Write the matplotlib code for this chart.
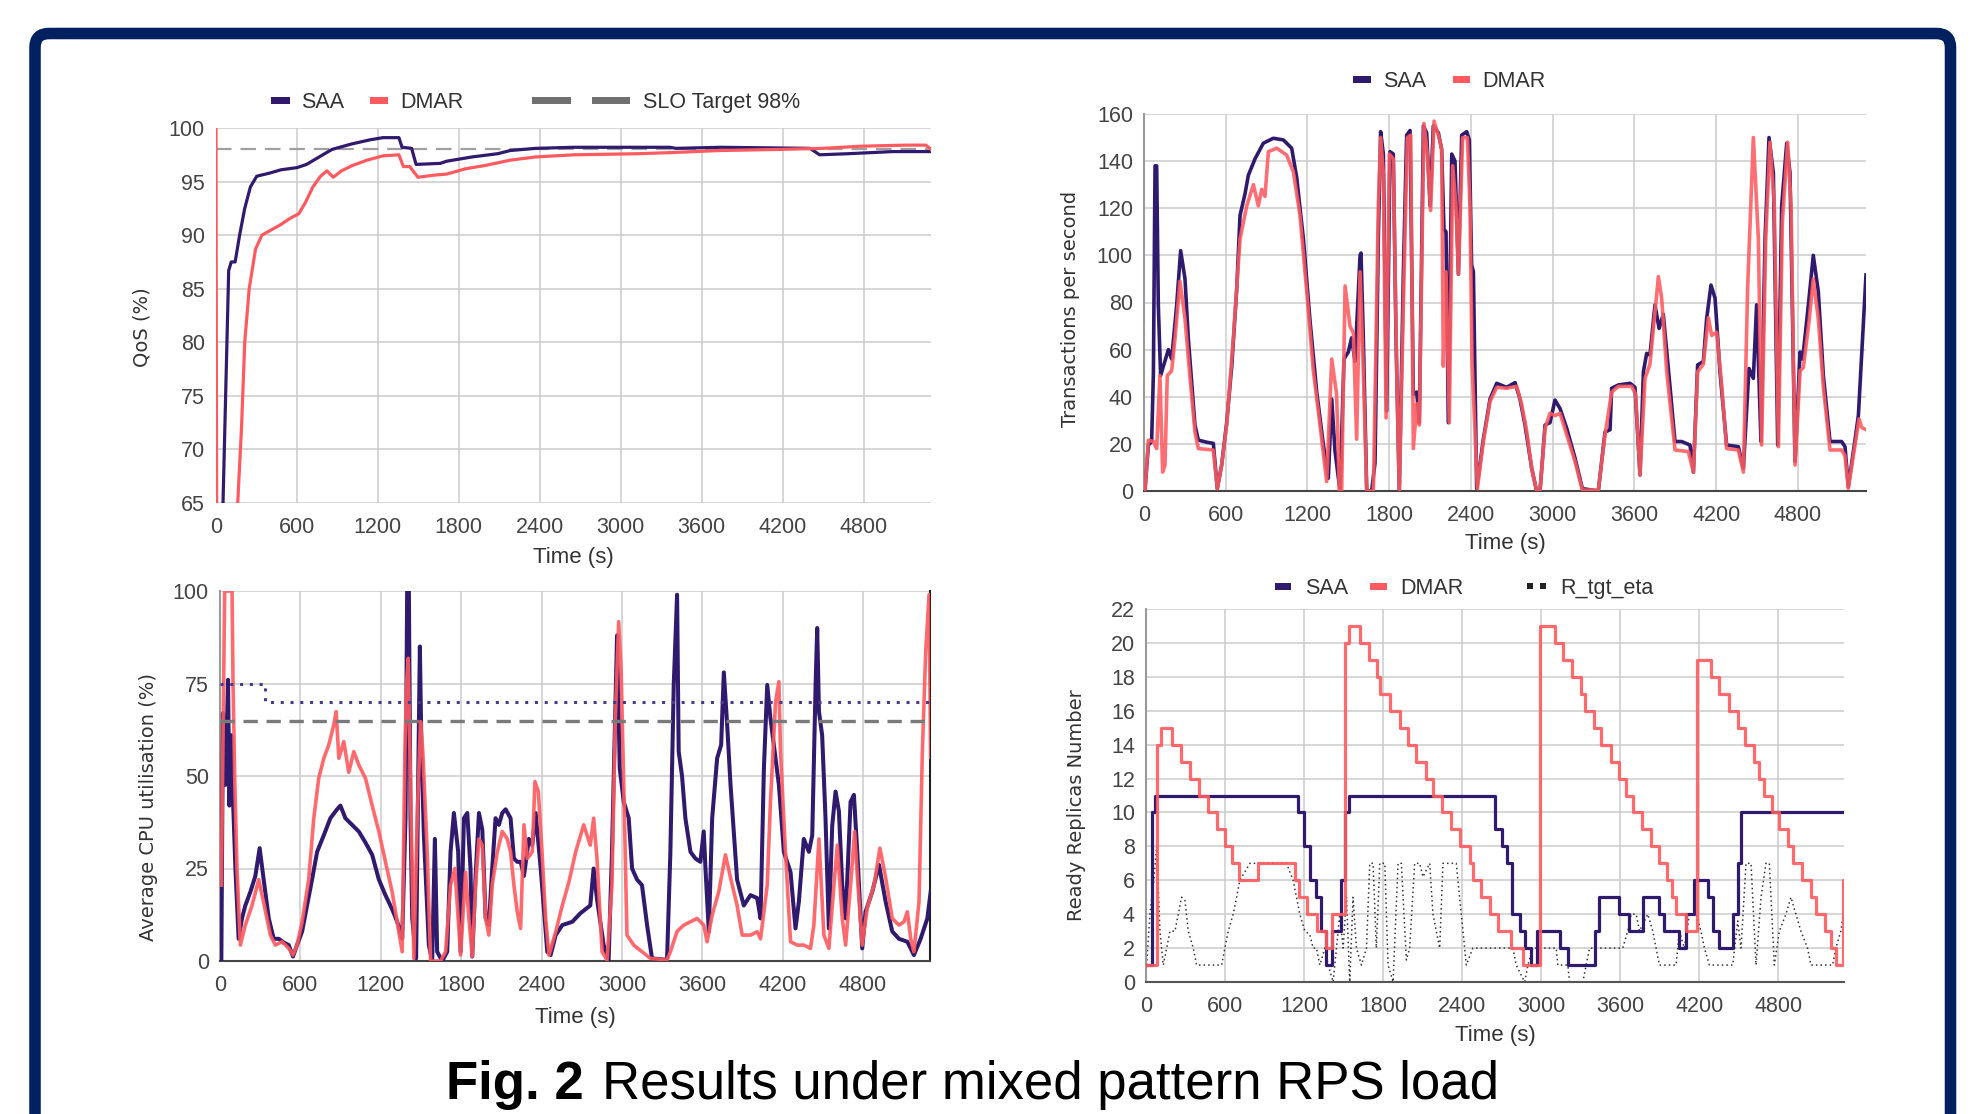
import matplotlib
matplotlib.use('Agg')
import matplotlib.pyplot as plt
from matplotlib.patches import Rectangle, FancyBboxPatch

plt.rcParams['font.family'] = ['Liberation Sans', 'DejaVu Sans']

# ---- data (time in seconds) ----
time_ticks = [0, 600, 1200, 1800, 2400, 3000, 3600, 4200, 4800]

# QoS (%)
saa_qos_t = [45, 52, 94, 113, 142, 175, 213, 255, 302, 400, 482, 600, 671, 765, 860, 1002, 1143, 1238,
             1356, 1379, 1450, 1483, 1663, 1710, 1899, 2088, 2182, 2371, 2655, 3363, 3411, 3741, 4403,
             4474, 4686, 5017, 5300]
saa_qos_v = [40, 65, 86.7, 87.5, 87.5, 90, 92.5, 94.5, 95.5, 95.8, 96.1, 96.3, 96.6, 97.3, 98, 98.5, 98.9,
             99.1, 99.1, 98.2, 98.1, 96.6, 96.7, 96.9, 97.3, 97.6, 97.9, 98.1, 98.2, 98.2, 98.1, 98.2,
             98.1, 97.5, 97.6, 97.8, 97.8]
dmar_qos_t = [0, 8, 150, 161, 189, 213, 246, 293, 340, 482, 553, 614, 661, 718, 775, 822, 869, 930, 1011,
              1120, 1238, 1356, 1389, 1436, 1497, 1616, 1710, 1852, 1994, 2182, 2371, 2655, 3127, 3363,
              3741, 4167, 4497, 4781, 5111, 5262, 5300]
dmar_qos_v = [100, 40, 40, 65, 72, 80, 85, 88.7, 90, 91, 91.6, 92, 93, 94.5, 95.5, 96, 95.4, 96, 96.5,
              97, 97.4, 97.5, 96.4, 96.4, 95.4, 95.6, 95.7, 96.2, 96.5, 97, 97.3, 97.5, 97.6, 97.7,
              97.9, 98, 98.1, 98.3, 98.4, 98.4, 98.0]
slo_target = 98

# Transactions per second
saa_tps_t = [7, 32, 56, 69, 81, 93, 105, 122, 179, 203, 240, 269, 301, 325, 350, 374, 399, 460, 509, 538,
             570, 607, 644, 680, 705, 741, 766, 815, 876, 949, 1023, 1084, 1121, 1170, 1219, 1268, 1317,
             1353, 1378, 1402, 1439, 1468, 1500, 1524, 1549, 1586, 1593, 1610, 1635, 1671, 1696, 1720,
             1737, 1757, 1781, 1806, 1830, 1850, 1874, 1904, 1928, 1953, 1977, 2002, 2021, 2051, 2075,
             2100, 2124, 2161, 2185, 2202, 2217, 2234, 2259, 2283, 2308, 2332, 2369, 2388, 2405, 2418,
             2442, 2491, 2540, 2589, 2662, 2724, 2760, 2797, 2846, 2882, 2907, 2944, 2980, 3017, 3054,
             3103, 3164, 3218, 3335, 3384, 3421, 3433, 3482, 3568, 3604, 3641, 3666, 3690, 3714, 3751,
             3781, 3812, 3849, 3898, 3947, 4008, 4033, 4064, 4106, 4130, 4162, 4192, 4228, 4277, 4363,
             4400, 4441, 4473, 4497, 4529, 4559, 4588, 4620, 4652, 4681, 4718, 4742, 4779, 4816, 4835,
             4877, 4913, 4950, 4987, 5036, 5121, 5146, 5170, 5207, 5244, 5300]
saa_tps_v = [0, 19.5, 21, 50, 138, 138, 79, 49, 60, 56, 79, 102, 90, 65, 46, 28, 21.6, 20.7, 20.2, 1,
             11, 29, 53, 85, 117, 126, 134, 141, 147.6, 149.7, 149, 145.5, 133, 107, 72, 42, 19.5,
             5.4, 39, 17, 0, 56, 59, 65, 55, 100, 101, 65, 0, 0, 12, 107,
             152.5, 143, 34, 144, 143, 65, 0, 93, 151, 153, 41, 42, 29, 155, 152,
             121, 155, 152, 145, 111, 110, 29, 143, 140, 92, 151, 152.5, 149, 96, 93,
             1, 22, 39, 45.7, 44, 46, 39, 28, 9.6, 0, 0, 28, 29, 38.6, 35,
             26.6, 14, 1, 0, 25, 26, 43.6, 45, 45.7, 44, 6.8, 50.6, 58.4, 57.7, 79,
             69, 75, 52, 21, 21, 19.5, 8, 53.5, 55, 73, 87.4, 81.8, 50.6, 19.5, 18.8,
             9.6, 52, 47.8, 79, 21, 107, 150, 135, 19.5, 121, 147.6, 135, 12.5, 59, 56,
             79, 100, 84.6, 49, 21, 21, 18.8, 1.8, 16.7, 32, 91.7]
dmar_tps_t = [7, 32, 69, 93, 117, 137, 154, 171, 203, 228, 264, 301, 338, 374, 399, 509, 538, 570, 607,
              656, 705, 754, 803, 839, 864, 888, 913, 974, 1047, 1096, 1145, 1194, 1243, 1292, 1341,
              1378, 1414, 1434, 1451, 1476, 1512, 1537, 1561, 1586, 1610, 1635, 1684, 1720, 1737, 1757,
              1777, 1801, 1830, 1855, 1874, 1904, 1933, 1958, 1977, 2002, 2021, 2055, 2080, 2104, 2129,
              2166, 2185, 2197, 2217, 2241, 2266, 2290, 2308, 2339, 2374, 2393, 2408, 2447, 2491, 2540,
              2589, 2662, 2736, 2772, 2809, 2846, 2882, 2907, 2944, 2980, 3017, 3054, 3103, 3164, 3218,
              3335, 3384, 3433, 3482, 3580, 3609, 3641, 3678, 3714, 3751, 3776, 3800, 3837, 3898, 3996,
              4033, 4064, 4106, 4143, 4167, 4204, 4241, 4277, 4363, 4400, 4431, 4473, 4510, 4534, 4564,
              4595, 4627, 4657, 4686, 4725, 4750, 4779, 4816, 4840, 4882, 4913, 4950, 4987, 5036, 5121,
              5146, 5170, 5207, 5249, 5268, 5300]
dmar_tps_v = [0, 21.6, 21, 18, 49, 8, 11, 49, 51, 65, 89, 73, 48, 25, 18, 17.4, 1, 11, 28,
              65, 107, 121, 130, 121, 128, 125, 144, 145.5, 142.6, 135.6, 117, 85, 51, 28, 4,
              56, 41, 0, 0, 87, 70, 67, 22, 93, 51, 0, 0, 121, 150, 135,
              31, 143, 141, 51, 0, 79, 150, 151, 18, 37, 28, 156, 143, 119, 157,
              150, 145, 53, 93, 29, 138, 121, 92, 150, 150, 121, 55, 1, 21, 38,
              44, 43.6, 44.4, 36.8, 25.5, 9.6, 0, 0, 26.6, 33, 32, 33, 23.8, 12.5, 0.4,
              0.4, 23.8, 42, 44.4, 44.4, 41, 6.8, 47.8, 53.8, 76, 91, 81.8, 50.6, 17.4, 16.7,
              8, 50.6, 53.8, 73.6, 66, 67.4, 44.6, 18, 17.4, 8, 86, 150, 107, 19.5, 107,
              148, 121, 18.8, 114, 148, 121, 11, 51, 52.4, 72, 90, 73, 43.9, 17.4, 17.4,
              15, 1.1, 15, 30.6, 27, 26]

# Average CPU utilisation (%)
saa_cpu_t = [10, 22, 40, 60, 70, 85, 95, 115, 139, 164, 189, 227, 264, 296, 326, 364, 401, 438, 476, 513,
             545, 575, 613, 650, 687, 725, 775, 824, 874, 899, 936, 986, 1036, 1086, 1136, 1186, 1235,
             1285, 1323, 1360, 1385, 1397, 1410, 1422, 1435, 1464, 1479, 1492, 1504, 1522, 1559, 1584,
             1604, 1621, 1659, 1696, 1721, 1746, 1778, 1796, 1821, 1846, 1870, 1883, 1908, 1933, 1958,
             1983, 2007, 2032, 2057, 2082, 2107, 2132, 2169, 2194, 2219, 2244, 2269, 2306, 2331, 2356,
             2394, 2418, 2443, 2468, 2506, 2555, 2630, 2690, 2764, 2789, 2814, 2864, 2901, 2926, 2964,
             2984, 3014, 3051, 3076, 3113, 3150, 3188, 3225, 3337, 3362, 3387, 3412, 3424, 3449, 3474,
             3512, 3549, 3586, 3611, 3624, 3649, 3674, 3711, 3741, 3761, 3786, 3811, 3860, 3910, 3960,
             4010, 4035, 4060, 4085, 4109, 4134, 4172, 4209, 4259, 4296, 4321, 4358, 4396, 4421, 4446,
             4458, 4471, 4495, 4520, 4545, 4570, 4595, 4620, 4645, 4670, 4707, 4732, 4757, 4794, 4819,
             4869, 4919, 4969, 5018, 5068, 5131, 5180, 5230, 5280, 5305]
saa_cpu_v = [0, 67, 47.6, 76, 42, 61, 46, 25, 6, 11.5, 15, 18.7, 23, 30.5, 22, 11.5, 6, 6, 5, 4.3,
             1.2, 4.3, 8, 15, 22, 29.5, 34, 38.6, 41, 42, 38.6, 36.8, 35, 32, 28.7, 22, 17.8,
             14, 10.6, 6, 39, 100, 100, 39, 11.5, 0.7, 47.6, 85, 56.6, 34, 4.3, 0,
             33, 2.5, 0, 2.5, 29.5, 40, 29.5, 2.5, 38.6, 40, 25, 1.2, 23, 40, 35.5,
             11.5, 9.7, 25, 38.6, 36.8, 40, 41, 38.6, 27.7, 26.8, 26.8, 23, 33, 31.3, 40,
             25, 14, 2.5, 1.6, 7, 9.7, 10.6, 12.9, 15, 25, 16.8, 4.3, 0.3, 29.5, 88,
             52, 43, 38.6, 25, 22, 20.5, 9.7, 0.7, 0.3, 29.5, 74.6, 99, 56.6, 50, 38.6,
             29.5, 27.7, 26.8, 35, 25, 7.9, 38.6, 54.8, 58.4, 78, 63.8, 47.6, 22, 15, 17.8,
             17, 11.5, 52, 74.6, 65.6, 58.4, 47.6, 29.5, 24, 8.8, 16, 33, 29.5, 34, 74.6,
             90, 67.4, 61, 38.6, 8.8, 36.5, 45.8, 40.5, 20.5, 11.5, 43, 44.9, 29.5, 3.4, 13.3,
             18.7, 26, 16, 8, 6, 5.2, 1.6, 6, 11.5, 18.7]
dmar_cpu_t = [10, 35, 65, 90, 97, 110, 127, 152, 189, 239, 289, 326, 376, 413, 463, 513, 545, 575, 613,
              662, 700, 737, 775, 812, 849, 867, 887, 924, 961, 999, 1036, 1086, 1136, 1186, 1235, 1285,
              1335, 1360, 1380, 1392, 1405, 1422, 1447, 1472, 1497, 1514, 1547, 1572, 1646, 1684, 1721,
              1753, 1778, 1796, 1833, 1858, 1883, 1908, 1933, 1958, 1983, 2007, 2032, 2070, 2107, 2144,
              2169, 2194, 2219, 2244, 2269, 2294, 2331, 2351, 2376, 2401, 2431, 2456, 2506, 2555, 2605,
              2655, 2715, 2764, 2789, 2814, 2852, 2889, 2926, 2951, 2976, 2994, 3014, 3038, 3088, 3150,
              3213, 3337, 3362, 3412, 3462, 3512, 3561, 3611, 3636, 3674, 3723, 3773, 3811, 3860, 3898,
              3960, 4010, 4035, 4085, 4109, 4147, 4172, 4184, 4221, 4259, 4309, 4358, 4408, 4433, 4471,
              4508, 4545, 4583, 4608, 4645, 4670, 4707, 4737, 4762, 4794, 4832, 4882, 4926, 4969, 5018,
              5068, 5106, 5131, 5156, 5180, 5218, 5243, 5268, 5293, 5305]
dmar_cpu_v = [20.5, 100, 100, 100, 76, 49, 25, 4.3, 9.7, 15, 22, 15.8, 7, 4.3, 5.2, 3.4, 1.6, 4.3, 10.6,
              22, 38.6, 49.4, 54.8, 58.4, 63.8, 67.4, 54.8, 59.3, 51, 56.6, 53, 49.4, 42, 35, 26.8, 18.7,
              8, 2.5, 56.6, 74.6, 81.8, 47.6, 0.7, 38.6, 64.7, 56.6, 29.5, 0, 0, 2.5, 20.5,
              25, 11.5, 1.6, 24, 11.5, 1.2, 20.5, 33, 31.3, 11.5, 7, 20.5, 29.5, 35, 33,
              29.5, 20.5, 13.3, 8.8, 36.8, 27.7, 29.5, 48.5, 45.8, 31.3, 11.5, 1.6, 7.9, 15, 21.4,
              29.5, 36.8, 31.3, 38.6, 27.7, 2.5, 0.3, 20.5, 65.6, 91.7, 79, 47.6, 7, 4.3, 2.5,
              0.7, 0.3, 2.5, 8, 9.7, 10.6, 11.5, 9.7, 5.2, 12.4, 18.7, 28.7, 22.5, 15, 7,
              7, 7.9, 6, 20.5, 43, 70, 75.5, 56.6, 29.5, 5.2, 4.3, 4.3, 3.4, 9.7, 33,
              7, 3.4, 20.5, 31.3, 11.5, 4.3, 20.5, 35, 20.5, 4.3, 14.4, 20.5, 30.5, 22.5, 11.5,
              9.7, 10.6, 13.3, 6, 2.5, 16, 56.6, 83.6, 99, 55]
cpu_target_t = [0, 336, 5300]
cpu_target_v = [75, 70, 70]
cpu_threshold = 65

# Ready replicas (step changes)
saa_rep_t = [0, 43, 68, 1155, 1198, 1249, 1289, 1332, 1370, 1416, 1484, 1510, 1542, 2647, 2700, 2740,
             2781, 2837, 2875, 2925, 2968, 3145, 3203, 3413, 3443, 3590, 3666, 3772, 3893, 3936, 4045,
             4101, 4164, 4265, 4303, 4353, 4455, 4493, 4518, 5300]
saa_rep_v = [1, 10, 11, 10, 8, 6, 5, 3, 1, 3, 6, 10, 11, 9, 8, 7,
             4, 3, 2, 1, 3, 2, 1, 3, 5, 4, 3, 5, 4, 3, 2,
             4, 6, 5, 3, 2, 4, 7, 10, 10]
dmar_rep_t = [0, 86, 111, 195, 263, 334, 404, 468, 541, 599, 650, 708, 852, 1130, 1163, 1224, 1299, 1370,
              1416, 1509, 1542, 1623, 1694, 1754, 1780, 1856, 1926, 1990, 2053, 2124, 2179, 2250, 2318,
              2386, 2457, 2482, 2546, 2609, 2672, 2773, 2862, 2993, 3102, 3165, 3236, 3304, 3337, 3405,
              3456, 3532, 3590, 3641, 3696, 3767, 3835, 3898, 3954, 3994, 4025, 4101, 4182, 4290, 4353,
              4424, 4493, 4551, 4619, 4652, 4695, 4753, 4809, 4872, 4915, 4980, 5049, 5087, 5157, 5200,
              5238, 5294, 5300]
dmar_rep_v = [1, 14, 15, 14, 13, 12, 11, 10, 9, 8, 7, 6, 7, 6, 5, 4, 3, 2,
              4, 20, 21, 20, 19, 18, 17, 16, 15, 14, 13, 12, 11, 10, 9,
              8, 7, 6, 5, 4, 3, 2, 1, 21, 20, 19, 18, 17, 16, 15,
              14, 13, 12, 11, 10, 9, 8, 7, 6, 5, 4, 3, 19, 18, 17,
              16, 15, 14, 13, 12, 11, 10, 9, 8, 7, 6, 5, 4, 3, 2,
              1, 6, 6]
eta_t = [5, 30, 60, 81, 106, 131, 157, 182, 220, 245, 270, 296, 321, 359, 384, 574, 599, 624, 662, 688,
         713, 789, 1067, 1117, 1168, 1206, 1244, 1269, 1294, 1320, 1358, 1383, 1421, 1446, 1471, 1497,
         1522, 1547, 1572, 1598, 1636, 1674, 1699, 1724, 1749, 1775, 1813, 1838, 1876, 1914, 1939, 1977,
         2002, 2040, 2078, 2103, 2154, 2179, 2204, 2230, 2255, 2293, 2318, 2356, 2381, 2407, 2432, 2482,
         2736, 2786, 2811, 2875, 2900, 2938, 3115, 3127, 3203, 3216, 3317, 3342, 3368, 3620, 3658, 3684,
         3722, 3747, 3810, 3848, 3873, 3898, 4025, 4050, 4088, 4126, 4177, 4214, 4240, 4278, 4455, 4493,
         4518, 4556, 4594, 4632, 4670, 4707, 4733, 4771, 4809, 4859, 4897, 4935, 4973, 5023, 5049, 5213,
         5238, 5276, 5294]
eta_v = [1, 4, 6, 8, 3, 1, 2, 3, 3, 4, 5, 4.8, 3, 2, 1, 1, 2, 3, 4, 5,
         6, 7, 7, 6, 4, 3, 2.8, 2, 2, 1, 2, 1, 0, 2, 4, 2,
         5, 0, 5, 2, 1, 2, 7, 7, 2, 7, 7, 1, 0, 7, 7, 1.3,
         2, 7, 7, 6.2, 7, 4, 3, 2, 7, 7, 7, 7, 5, 3, 1, 2,
         2, 2, 1, 0, 1, 2, 2, 1, 1, 0, 0, 1, 2, 2, 3, 4,
         4, 3, 4, 3, 2, 1, 1, 3, 2, 4, 4, 3, 2, 1, 1, 3.6,
         2, 7, 7, 1, 5, 7, 7, 1, 3, 4, 5, 4, 3, 2, 1, 1,
         2, 3, 4]

# ---- styling ----
W, H = 1972, 1114
NAVY = '#2f1a6e'
RED = '#ff5a5f'
FRAME = '#002060'
TICK_COL = '#444444'


def box(x0, y0, x1, y1):
    # pixel box (top-left origin) -> figure fraction rect
    return [x0 / W, 1 - y1 / H, (x1 - x0) / W, (y1 - y0) / H]


def style_axes(ax, ylim, yticks, left=None, bottom=None, right=None):
    ax.set_xlim(0, 5300)
    ax.set_ylim(*ylim)
    ax.set_xticks(time_ticks)
    ax.set_yticks(yticks)
    ax.grid(True, color='#cccccc', lw=1.1)
    ax.set_axisbelow(True)
    ax.tick_params(length=0, labelsize=15.5, labelcolor=TICK_COL)
    ax.tick_params(axis='x', pad=10)
    ax.tick_params(axis='y', pad=8)
    for name, col in (('left', left), ('bottom', bottom), ('right', right), ('top', None)):
        sp = ax.spines[name]
        if col is None:
            sp.set_visible(False)
        else:
            sp.set_color(col)
            sp.set_linewidth(1.5)


fig = plt.figure(figsize=(W / 100, H / 100), dpi=100)

# top left: QoS
ax1 = fig.add_axes(box(216, 128, 931, 503))
style_axes(ax1, (65, 100), range(65, 101, 5))
ax1.axhline(slo_target, color='#a0a0a0', lw=1.6, ls=(0, (7, 4)), zorder=2)
ax1.plot(saa_qos_t, saa_qos_v, color=NAVY, lw=2.3, zorder=3)
ax1.plot(dmar_qos_t, dmar_qos_v, color=RED, lw=2.3, zorder=4)

# top right: TPS
ax2 = fig.add_axes(box(1144, 114, 1866, 491))
style_axes(ax2, (0, 160), range(0, 161, 20), left='#9a9a9a', bottom='#444444')
ax2.plot(saa_tps_t, saa_tps_v, color=NAVY, lw=2.6, zorder=3)
ax2.plot(dmar_tps_t, dmar_tps_v, color=RED, lw=2.6, alpha=0.88, zorder=4)

# bottom left: CPU
ax3 = fig.add_axes(box(220, 591, 930, 961))
style_axes(ax3, (0, 100), [0, 25, 50, 75, 100], left='#9a9a9a', bottom='#444444', right='#222222')
ax3.plot(saa_cpu_t, saa_cpu_v, color=NAVY, lw=2.9, zorder=3)
ax3.plot(dmar_cpu_t, dmar_cpu_v, color=RED, lw=2.6, alpha=0.9, zorder=4)
ax3.step(cpu_target_t, cpu_target_v, where='post', color='#4a3a8a', lw=2.2, ls=(0, (1, 2.2)), zorder=5)
ax3.axhline(cpu_threshold, color='#7a7a7a', lw=2.4, ls=(0, (4.3, 2.6)), zorder=5)

# bottom right: replicas
ax4 = fig.add_axes(box(1146, 609, 1844, 982))
style_axes(ax4, (0, 22), range(0, 23, 2), left='#9a9a9a', bottom='#555555')
ax4.plot(eta_t, eta_v, color='#333333', lw=1.1, ls=(0, (1, 2)), zorder=2)
ax4.step(saa_rep_t, saa_rep_v, where='post', color=NAVY, lw=2.3, zorder=3)
ax4.step(dmar_rep_t, dmar_rep_v, where='post', color=RED, lw=2.3, alpha=0.9, zorder=4)

# ---- overlay in pixel coordinates: frame, legends, labels, title ----
ov = fig.add_axes([0, 0, 1, 1])
ov.set_xlim(0, W)
ov.set_ylim(0, H)
ov.axis('off')


def Y(y):
    return H - y


ov.add_patch(FancyBboxPatch((35, -30), 1915.5, Y(33.5) + 30, boxstyle='round,pad=0,rounding_size=14',
                            fc='none', ec=FRAME, lw=8.3))


def swatch(x0, x1, yc, col, h=7):
    ov.add_patch(Rectangle((x0, Y(yc) - h / 2), x1 - x0, h, fc=col, ec='none'))


def legend_text(x, baseline, s):
    ov.text(x, Y(baseline), s, fontsize=15.5, color='#333333', va='baseline', ha='left')


# top-left legend
swatch(271, 290, 100, NAVY)
legend_text(301, 108, 'SAA')
swatch(370, 388, 100, RED)
legend_text(400, 108, 'DMAR')
swatch(532, 571, 100, '#707070')
swatch(592, 630, 100, '#707070')
legend_text(643, 108, 'SLO Target 98%')

# top-right legend
swatch(1353, 1371, 79, NAVY)
legend_text(1383, 87, 'SAA')
swatch(1453, 1470, 79, RED)
legend_text(1482, 87, 'DMAR')

# bottom-right legend
swatch(1275, 1291, 586, NAVY)
legend_text(1305, 594, 'SAA')
swatch(1370, 1387, 586, RED)
legend_text(1400, 594, 'DMAR')
swatch(1527, 1533, 586, '#222222', h=6)
swatch(1540, 1546, 586, '#222222', h=6)
legend_text(1560, 594, 'R_tgt_eta')

# axis titles
for x, y in ((573, 558), (1505, 543), (575, 1018), (1495, 1035)):
    ov.text(x, Y(y), 'Time (s)', fontsize=16, color='#333333', ha='center', va='center')
for x, y, s in ((142, 327, 'QoS (%)'), (1071, 309, 'Transactions per second'),
                (148, 807, 'Average CPU utilisation (%)'), (1076, 805, 'Ready Replicas Number')):
    ov.text(x, Y(y), s, fontsize=14, color='#333333', ha='center', va='center', rotation=90,
            family=['DejaVu Sans'])

# caption
ov.text(446, Y(1099), 'Fig. 2', fontsize=38, fontweight='bold', color='black', va='baseline', ha='left')
ov.text(602, Y(1099), 'Results under mixed pattern RPS load', fontsize=38, color='black',
        va='baseline', ha='left')

fig.savefig('out.png', dpi=100)
